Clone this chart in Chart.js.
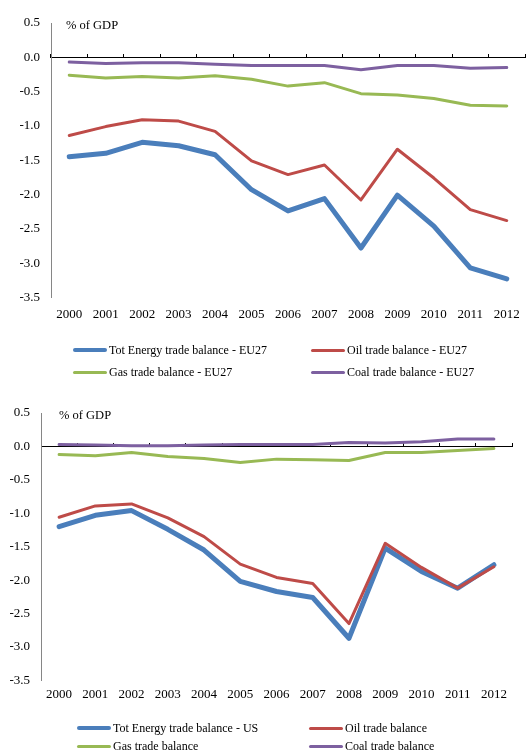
<!DOCTYPE html>
<html>
<head>
<meta charset="utf-8">
<script src="https://cdn.jsdelivr.net/npm/chart.js@4.4.1/dist/chart.umd.min.js"></script>
<style>
  html, body { margin: 0; padding: 0; background: #fff; }
  body { width: 529px; height: 751px; position: relative; overflow: hidden;
         font-family: "Liberation Serif", "Times New Roman", serif; }
  .box { position: absolute; left: 0; width: 529px; }
  .legend { position: absolute; display: grid; font-size: 12px; color: #000; }
  .legend .item { display: flex; align-items: center; white-space: nowrap; }
  .legend i { display: inline-block; width: 34px; margin-right: 2px; border-radius: 3px; }
</style>
</head>
<body>
<div class="box" style="top:0;height:340px"><canvas id="euChart"></canvas></div>
<div class="legend" id="euLegend" style="left:73px;top:339px;grid-template-columns:238px auto;grid-auto-rows:22px"></div>
<div class="box" style="top:390px;height:324px"><canvas id="usChart"></canvas></div>
<div class="legend" id="usLegend" style="left:77px;top:719px;grid-template-columns:232px auto;grid-auto-rows:18px"></div>

<script>
// years on the x axis
const years = ['2000', '2001', '2002', '2003', '2004', '2005', '2006', '2007', '2008', '2009', '2010', '2011', '2012'];

// EU27 trade balances, % of GDP
const euTotal = [-1.45, -1.40, -1.24, -1.29, -1.42, -1.93, -2.24, -2.06, -2.78, -2.01, -2.46, -3.07, -3.23];
const euOil   = [-1.14, -1.01, -0.91, -0.93, -1.08, -1.51, -1.71, -1.57, -2.08, -1.34, -1.76, -2.22, -2.38];
const euGas   = [-0.26, -0.30, -0.28, -0.30, -0.27, -0.32, -0.42, -0.37, -0.53, -0.55, -0.60, -0.70, -0.71];
const euCoal  = [-0.07, -0.09, -0.08, -0.08, -0.10, -0.12, -0.12, -0.12, -0.18, -0.12, -0.12, -0.16, -0.15];

// US trade balances, % of GDP
const usTotal = [-1.20, -1.03, -0.96, -1.24, -1.55, -2.02, -2.17, -2.26, -2.87, -1.52, -1.87, -2.12, -1.77];
const usOil   = [-1.06, -0.89, -0.86, -1.07, -1.35, -1.76, -1.96, -2.05, -2.65, -1.45, -1.81, -2.12, -1.80];
const usGas   = [-0.12, -0.14, -0.09, -0.15, -0.18, -0.24, -0.19, -0.20, -0.21, -0.09, -0.09, -0.06, -0.03];
const usCoal  = [0.03, 0.02, 0.01, 0.01, 0.02, 0.03, 0.03, 0.03, 0.06, 0.05, 0.07, 0.11, 0.11];

const euNames = ['Tot Energy trade balance - EU27', 'Oil trade balance - EU27', 'Gas trade balance - EU27', 'Coal trade balance - EU27'];
const usNames = ['Tot Energy trade balance - US', 'Oil trade balance', 'Gas trade balance', 'Coal trade balance'];

const colors = ['#4a7ebb', '#be4b48', '#98b954', '#7d60a0'];
const widths = [5, 3, 3, 3];
const font = { family: '"Liberation Serif", "Times New Roman", serif', size: 13 };

// "% of GDP" note drawn next to the top of the y axis
const gdpLabel = {
  id: 'gdpLabel',
  afterDraw(chart, args, opts) {
    const { ctx, chartArea, scales } = chart;
    ctx.save();
    ctx.font = '12.5px "Liberation Serif"';
    ctx.fillStyle = '#000';
    ctx.textBaseline = 'middle';
    ctx.fillText('% of GDP', chartArea.left + opts.dx, scales.y.getPixelForValue(0.5) + 3);
    ctx.restore();
  }
};

function buildLegend(chart, legendId) {
  const el = document.getElementById(legendId);
  chart.data.datasets.forEach(ds => {
    const item = document.createElement('span');
    item.className = 'item';
    const line = document.createElement('i');
    line.style.background = ds.borderColor;
    line.style.height = Math.max(ds.borderWidth - 1, 3) + 'px';
    item.appendChild(line);
    item.appendChild(document.createTextNode(ds.label));
    el.appendChild(item);
  });
}

function create_chart(canvasId, legendId, names, series, padding, tickPad, axisWidth, dx) {
  const ctx = document.getElementById(canvasId).getContext('2d');
  const chart = new Chart(ctx, {
    type: 'line',
    data: {
      labels: years,
      datasets: series.map((data, i) => ({
        label: names[i],
        data: data,
        borderColor: colors[i],
        backgroundColor: colors[i],
        borderWidth: widths[i],
        pointRadius: 0,
        tension: 0,
        fill: false,
        borderJoinStyle: 'round',
        borderCapStyle: 'round',
        order: series.length - i
      }))
    },
    options: {
      responsive: true,
      maintainAspectRatio: false,
      animation: false,
      layout: { padding: padding },
      plugins: {
        legend: { display: false },
        tooltip: { enabled: false },
        gdpLabel: { dx: dx }
      },
      scales: {
        x: {
          type: 'category',
          position: 'bottom',
          offset: true,
          grid: { display: false, drawTicks: false },
          border: { display: false },
          ticks: { font: font, color: '#000', padding: tickPad, maxRotation: 0, autoSkip: false }
        },
        // zero line with small upward ticks between the years
        x0: {
          type: 'category',
          labels: years,
          position: { y: 0 },
          offset: true,
          grid: { offset: true, drawOnChartArea: false, drawTicks: true, tickLength: -4, color: '#000' },
          border: { color: '#000', width: 1 },
          ticks: { display: false }
        },
        y: {
          position: 'left',
          min: -3.5,
          max: 0.5,
          afterFit: scale => { scale.width = axisWidth; },
          grid: { drawOnChartArea: false, drawTicks: false },
          border: { color: '#868686' },
          ticks: {
            stepSize: 0.5,
            font: font,
            color: '#000',
            padding: 11,
            callback: v => v.toFixed(1)
          }
        }
      }
    },
    plugins: [gdpLabel]
  });
  buildLegend(chart, legendId);
  return chart;
}

create_chart('euChart', 'euLegend', euNames, [euTotal, euOil, euGas, euCoal],
  { left: 0, right: 4, top: 23, bottom: 9 }, 9, 51, 15);
create_chart('usChart', 'usLegend', usNames, [usTotal, usOil, usGas, usCoal],
  { left: 0, right: 17, top: 23, bottom: 6 }, 6, 41, 18);
</script>
</body>
</html>
